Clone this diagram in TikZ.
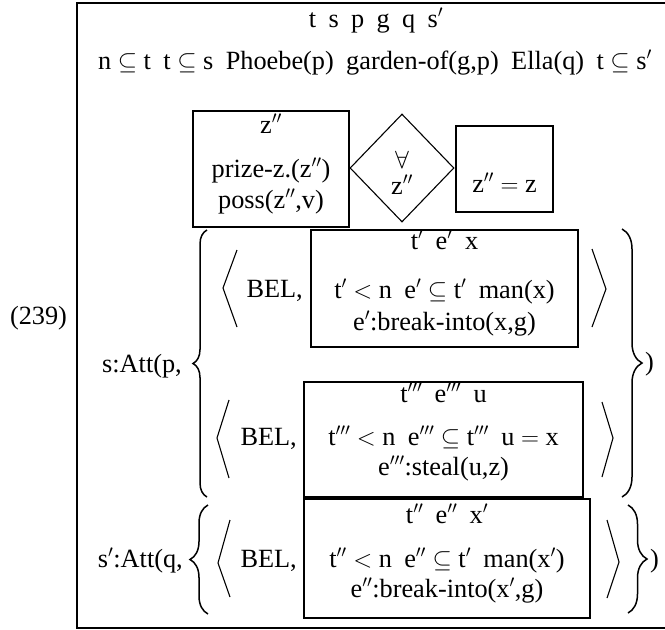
\documentclass[tikz,border=0pt]{standalone}
\usepackage{fontspec}
\setmainfont{Liberation Serif}
\usetikzlibrary{decorations.pathreplacing,shapes.geometric}
\newcommand\gapp{\hspace{.47em}}
\begin{document}
\begin{tikzpicture}[x=1pt,y=-1pt,
  font=\fontsize{26.3}{30}\selectfont,
  txt/.style={inner sep=0pt, anchor=base},
  bx/.style={draw, line width=1.8pt, inner sep=0pt},
  ang/.style={line width=1.1pt},
  brc/.style={decorate, decoration={brace, amplitude=#1, aspect=0.5}, line width=1.5pt}]
\useasboundingbox (0,0) rectangle (665,630);
\clip (0,0) rectangle (665,630);
% outer box (right side beyond the picture)
\draw[line width=2pt] (76.5,3) rectangle (690,628);
% header
\node[txt] (vars) at (376,27) {t\gapp s\gapp p\gapp g\gapp q\gapp s$'$};
\node[txt] (conds) at (375,69) {n $\subseteq$ t\gapp t $\subseteq$ s\gapp Phoebe(p)\gapp garden-of(g,p)\gapp Ella(q)\gapp t $\subseteq$ s$'$};
% number
\node[txt] (num) at (38.5,324) {(239)};
% box A
\node[bx, minimum width=156pt, minimum height=116pt] (boxA) at (271,169) {};
\node[txt] (a1) at (271,133) {z$''$};
\node[txt] (a2) at (271,177) {prize-z.(z$''$)};
\node[txt] (a3) at (271,208) {poss(z$''$,v)};
% diamond
\node[draw, diamond, line width=1.1pt, inner sep=0pt, minimum width=104pt, minimum height=108pt] (dia) at (402,168) {};
\node[txt] (d1) at (402,168) {$\forall$};
\node[txt] (d2) at (402,194) {z$''$};
% box C
\node[bx, minimum width=97pt, minimum height=86pt] (boxC) at (504.5,169) {};
\node[txt] (c1) at (504.5,192) {z$''$ $=$ z};
% s:Att(p,
\node[txt, anchor=base east] (attp) at (182,372) {s:Att(p,};
\draw[brc=14pt] (207,497) -- (207,230);
\draw[brc=20pt] (622,229) -- (622,497);
\node[txt, anchor=base west] (rp1) at (645,370) {)};
% box D
\node[txt, anchor=base east] (belD) at (303,297) {BEL,};
\node[bx, minimum width=267pt, minimum height=117pt] (boxD) at (444.5,288.5) {};
\node[txt] (dd1) at (444.5,249) {t$'$\gapp e$'$\gapp x};
\node[txt] (dd2) at (444.5,298) {t$'$ $<$ n\gapp e$'$ $\subseteq$ t$'$\gapp man(x)};
\node[txt] (dd3) at (444.5,330) {e$'$:break-into(x,g)};
\draw[ang] (237,250) -- (223,288) -- (237,327);
\draw[ang] (592,249) -- (606,289) -- (592,327);
% box E
\node[txt, anchor=base east] (belE) at (297,445) {BEL,};
\node[bx, minimum width=279pt, minimum height=115pt] (boxE) at (443.5,439.5) {};
\node[txt] (e1) at (443.5,402) {t$'''$\gapp e$'''$\gapp u};
\node[txt] (e2) at (443.5,445) {t$'''$ $<$ n\gapp e$'''$ $\subseteq$ t$'''$\gapp u $=$ x};
\node[txt] (e3) at (443.5,475) {e$'''$:steal(u,z)};
\draw[ang] (229,400) -- (217,438) -- (229,478);
\draw[ang] (602,402) -- (613,438) -- (602,477);
% s':Att(q,
\node[txt, anchor=base east] (attq) at (183,567) {s$'$:Att(q,};
\draw[brc=18pt] (208,614) -- (208,505);
\draw[brc=19pt] (628,505) -- (628,613);
\node[txt, anchor=base west] (rp2) at (650,567) {)};
% box F
\node[txt, anchor=base east] (belF) at (297,567) {BEL,};
\node[bx, minimum width=286pt, minimum height=119pt] (boxF) at (447,558.5) {};
\node[txt] (f1) at (447,523) {t$''$\gapp e$''$\gapp x$'$};
\node[txt] (f2) at (447,567) {t$''$ $<$ n\gapp e$''$ $\subseteq$ t$'$\gapp man(x$'$)};
\node[txt] (f3) at (447,597) {e$''$:break-into(x$'$,g)};
\draw[ang] (230,520) -- (218,563) -- (230,597);
\draw[ang] (607,520) -- (619,562) -- (607,598);
\end{tikzpicture}
\end{document}
